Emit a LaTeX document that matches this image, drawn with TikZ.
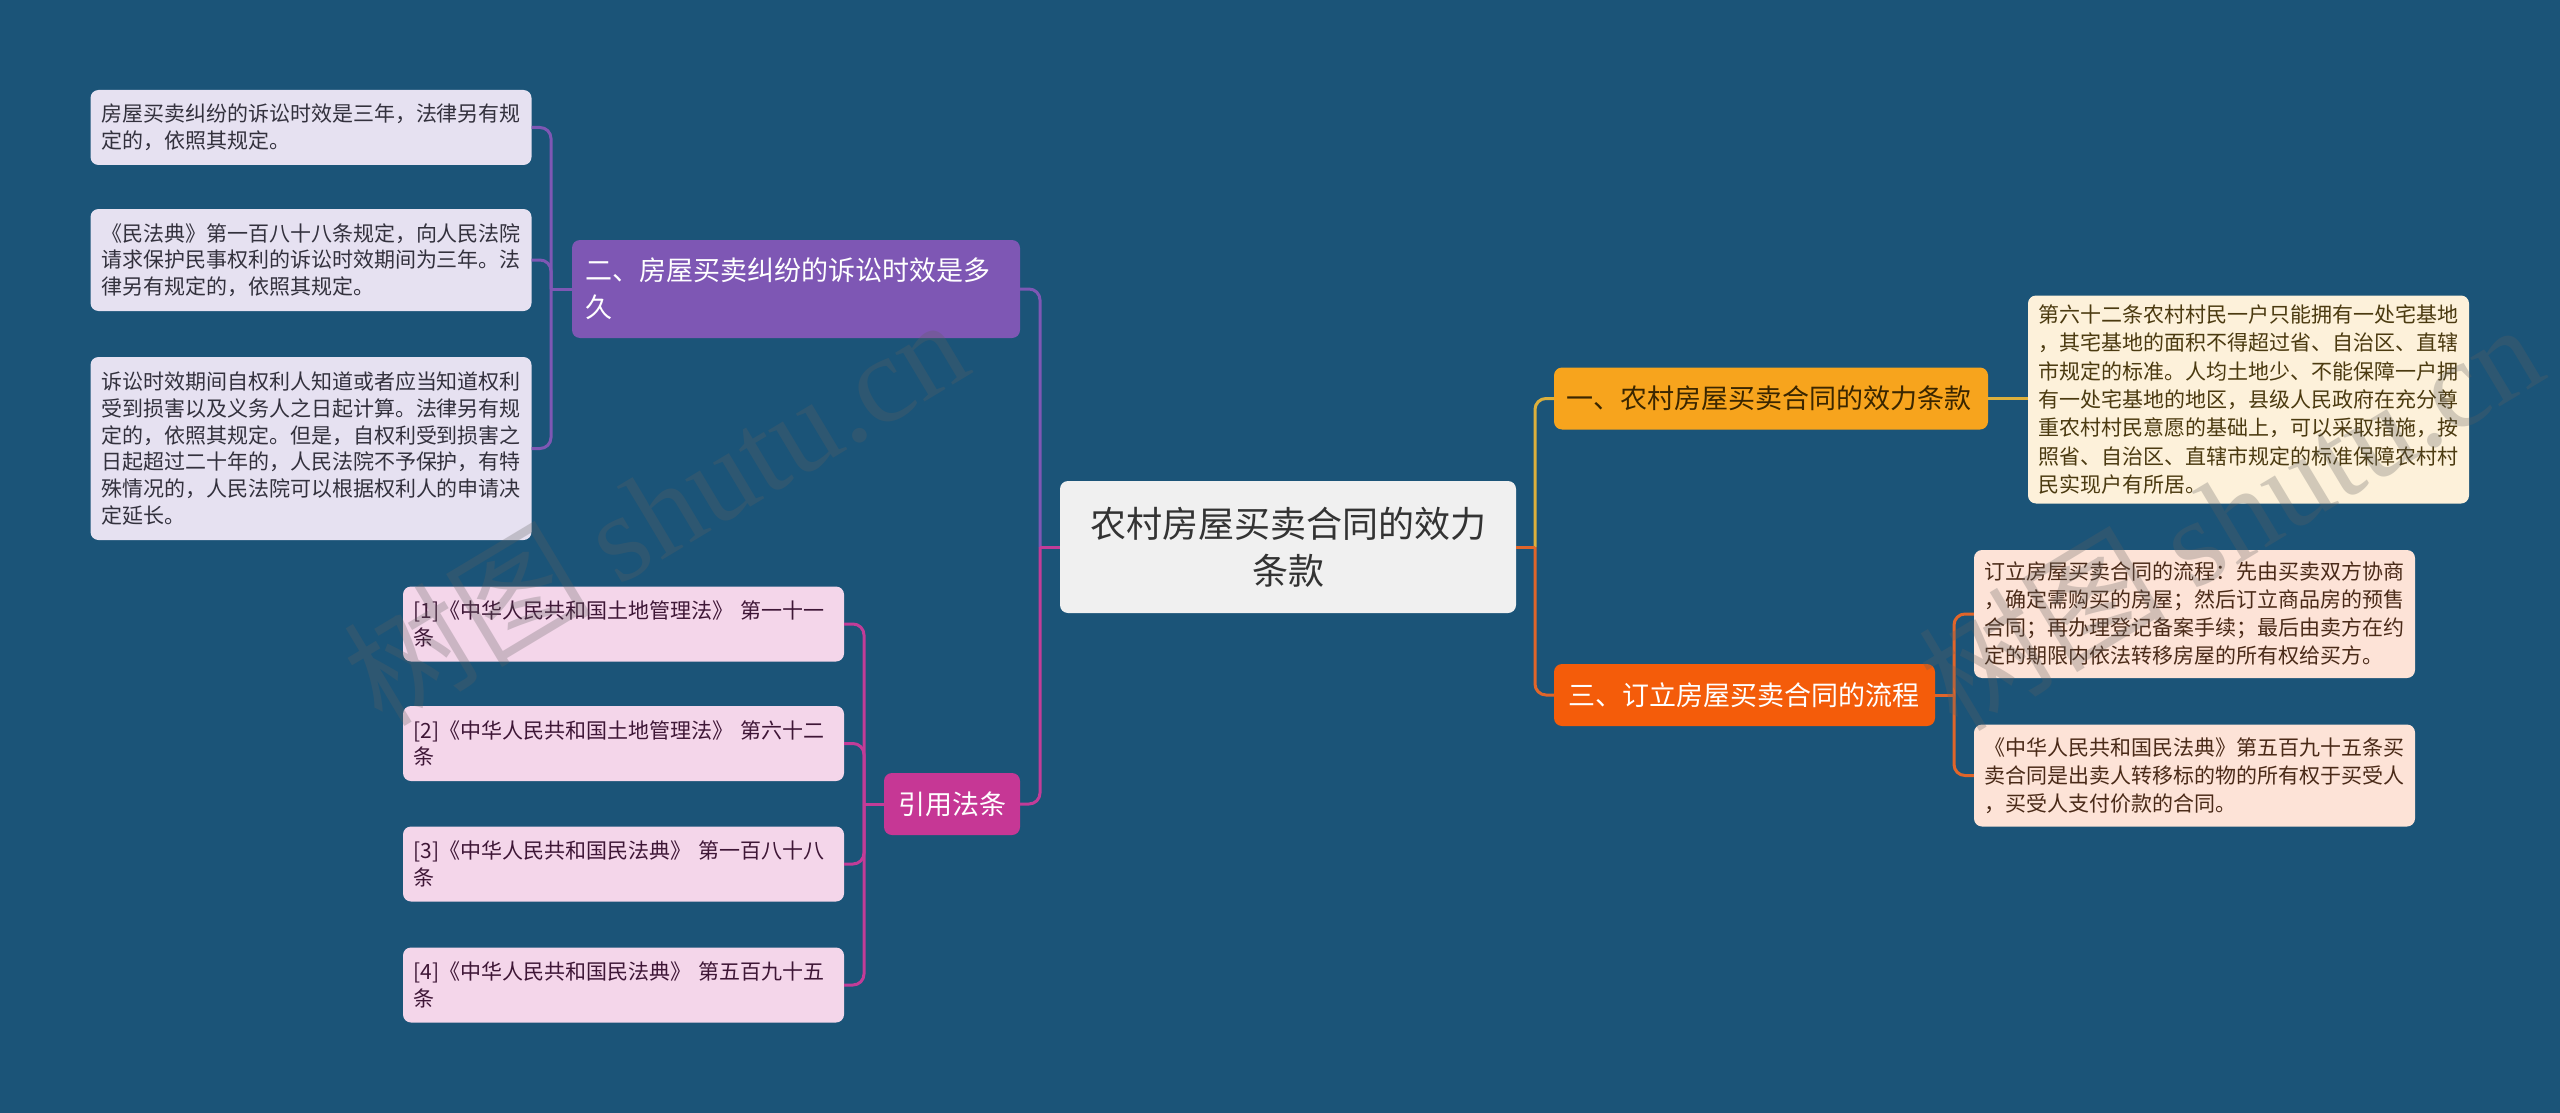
\documentclass[tikz,border=0pt]{standalone}
\usepackage{fontspec}
\setmainfont{Noto Sans CJK SC}
\newfontfamily\wmserif{Liberation Serif}
\newfontfamily\wmcjk{Noto Sans CJK SC}
\definecolor{bg}{HTML}{1B5478}
\definecolor{cenF}{HTML}{F0F0F0}
\definecolor{cenT}{HTML}{333333}
\definecolor{purF}{HTML}{7E57B4}
\definecolor{lavF}{HTML}{E6E1F1}
\definecolor{lavT}{HTML}{33313D}
\definecolor{magF}{HTML}{C63795}
\definecolor{pinkF}{HTML}{F4D6EA}
\definecolor{pinkT}{HTML}{3E1636}
\definecolor{yelF}{HTML}{F7A41D}
\definecolor{yelT}{HTML}{3A2600}
\definecolor{creF}{HTML}{FDF1DA}
\definecolor{creT}{HTML}{4B3A10}
\definecolor{oraF}{HTML}{F45C0A}
\definecolor{peaF}{HTML}{FDE3D7}
\definecolor{peaT}{HTML}{4A2A18}
\definecolor{lnPur}{HTML}{7E57B4}
\definecolor{lnMag}{HTML}{C23C98}
\definecolor{lnYel}{HTML}{DDB03C}
\definecolor{lnOra}{HTML}{E0652A}
\begin{document}
\begin{tikzpicture}[x=1pt,y=-1pt,
  box/.style={rounded corners=8pt, inner ysep=0pt, align=left, anchor=center},
  leaf/.style={box, inner xsep=10.5pt, text width=420pt, minimum width=441pt},
  lk/.style={line width=3pt, rounded corners=11pt},
  wm/.style={rotate=31, opacity=0.28, text=gray!75!black, font=\fontsize{124}{124}\selectfont},
]
\fill[bg] (0,0) rectangle (2560,1113);
\useasboundingbox (0,0) rectangle (2560,1113);

% central
\node[box, fill=cenF, text=cenT, inner xsep=10pt, text width=436pt, minimum width=456pt, minimum height=132pt, align=center, font=\fontsize{36}{47}\selectfont] (cen) at (1288,547) {农村房屋买卖合同的效力\\条款};

% left branch 1
\node[box, fill=purF, text=white, inner xsep=13pt, text width=422pt, minimum width=448pt, minimum height=98pt, font=\fontsize{27}{37}\selectfont] (b2) at (796,289) {二、房屋买卖纠纷的诉讼时效是多\\久};

\node[leaf, fill=lavF, text=lavT, minimum height=75pt, font=\fontsize{21}{26.7}\selectfont] (l1) at (311,127.5) {房屋买卖纠纷的诉讼时效是三年，法律另有规\\定的，依照其规定。};
\node[leaf, fill=lavF, text=lavT, minimum height=102pt, font=\fontsize{21}{26.7}\selectfont] (l2) at (311,260) {《民法典》第一百八十八条规定，向人民法院\\请求保护民事权利的诉讼时效期间为三年。法\\律另有规定的，依照其规定。};
\node[leaf, fill=lavF, text=lavT, minimum height=183pt, font=\fontsize{21}{26.7}\selectfont] (l3) at (311,448.5) {诉讼时效期间自权利人知道或者应当知道权利\\受到损害以及义务人之日起计算。法律另有规\\定的，依照其规定。但是，自权利受到损害之\\日起超过二十年的，人民法院不予保护，有特\\殊情况的，人民法院可以根据权利人的申请决\\定延长。};

% left branch 2
\node[box, fill=magF, text=white, inner xsep=8pt, minimum width=136pt, minimum height=62pt, align=center, font=\fontsize{27}{34}\selectfont] (b4) at (952,804) {引用法条};

\node[leaf, fill=pinkF, text=pinkT, minimum height=75pt, font=\fontsize{21}{26.7}\selectfont] (p1) at (623.5,624) {[1]《中华人民共和国土地管理法》~第一十一\\条};
\node[leaf, fill=pinkF, text=pinkT, minimum height=75pt, font=\fontsize{21}{26.7}\selectfont] (p2) at (623.5,743.5) {[2]《中华人民共和国土地管理法》~第六十二\\条};
\node[leaf, fill=pinkF, text=pinkT, minimum height=75pt, font=\fontsize{21}{26.7}\selectfont] (p3) at (623.5,864) {[3]《中华人民共和国民法典》~第一百八十八\\条};
\node[leaf, fill=pinkF, text=pinkT, minimum height=75pt, font=\fontsize{21}{26.7}\selectfont] (p4) at (623.5,985) {[4]《中华人民共和国民法典》~第五百九十五\\条};

% right branch 1
\node[box, fill=yelF, text=yelT, inner xsep=12pt, text width=410pt, minimum width=434pt, minimum height=62pt, font=\fontsize{27}{34}\selectfont] (b1) at (1771,398.5) {一、农村房屋买卖合同的效力条款};
\node[leaf, fill=creF, text=creT, minimum height=208pt, font=\fontsize{21}{28.3}\selectfont] (c1) at (2248.5,399.5) {第六十二条农村村民一户只能拥有一处宅基地\\，其宅基地的面积不得超过省、自治区、直辖\\市规定的标准。人均土地少、不能保障一户拥\\有一处宅基地的地区，县级人民政府在充分尊\\重农村村民意愿的基础上，可以采取措施，按\\照省、自治区、直辖市规定的标准保障农村村\\民实现户有所居。};

% right branch 3
\node[box, fill=oraF, text=white, inner xsep=14pt, text width=353pt, minimum width=381pt, minimum height=62pt, font=\fontsize{27}{34}\selectfont] (b3) at (1744.5,695) {三、订立房屋买卖合同的流程};
\node[leaf, fill=peaF, text=peaT, minimum height=128pt, font=\fontsize{21}{28}\selectfont] (r1) at (2194.5,614) {订立房屋买卖合同的流程：先由买卖双方协商\\，确定需购买的房屋；然后订立商品房的预售\\合同；再办理登记备案手续；最后由卖方在约\\定的期限内依法转移房屋的所有权给买方。};
\node[leaf, fill=peaF, text=peaT, minimum height=102pt, font=\fontsize{21}{28}\selectfont] (r2) at (2194.5,775.5) {《中华人民共和国民法典》第五百九十五条买\\卖合同是出卖人转移标的物的所有权于买受人\\，买受人支付价款的合同。};

% junctions
\coordinate (jl) at (1040,547);
\coordinate (jr) at (1535,547);
\coordinate (jp) at (551,289);
\coordinate (jm) at (864,804);
\coordinate (jo) at (1954,695);

% connectors
\draw[lk, lnPur] (b2.east) -| (jl);
\draw[lk, lnMag] (b4.east) -| (jl);
\draw[lk, lnMag] (cen.west) -- (jl);
\draw[lk, lnYel] (b1.west) -| (jr);
\draw[lk, lnOra] (b3.west) -| (jr);
\draw[lk, lnOra] (cen.east) -- (jr);

\draw[lk, lnPur] (l1.east) -| (jp);
\draw[lk, lnPur] (l2.east) -| (jp);
\draw[lk, lnPur] (l3.east) -| (jp);
\draw[lk, lnPur] (b2.west) -- (jp);

\draw[lk, lnMag] (p1.east) -| (jm);
\draw[lk, lnMag] (p2.east) -| (jm);
\draw[lk, lnMag] (p3.east) -| (jm);
\draw[lk, lnMag] (p4.east) -| (jm);
\draw[lk, lnMag] (b4.west) -- (jm);

\draw[lk, lnYel] (b1.east) -- (b1.east -| c1.west);

\draw[lk, lnOra] (r1.west) -| (jo);
\draw[lk, lnOra] (r2.west) -| (jo);
\draw[lk, lnOra] (b3.east) -- (jo);

% watermark
\node[wm] (wm1) at (655,510) {{\wmcjk 树图}~{\wmserif shutu.cn}};
\node[wm] (wm2) at (2230,515) {{\wmcjk 树图}~{\wmserif shutu.cn}};
\end{tikzpicture}
\end{document}
